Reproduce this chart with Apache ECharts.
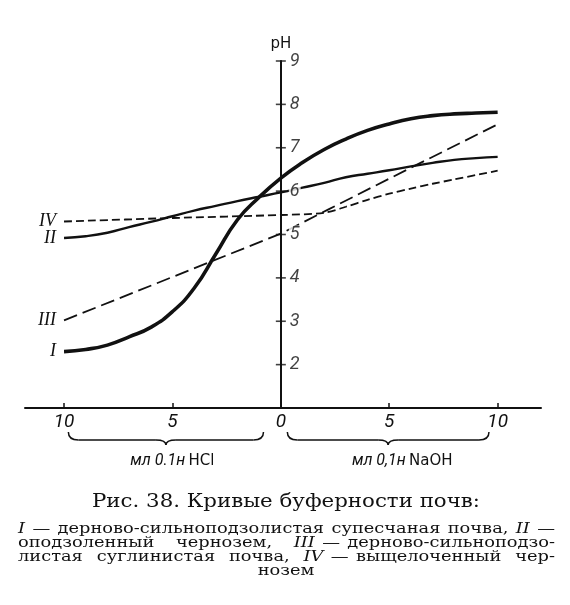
<!DOCTYPE html>
<html>
<head>
<meta charset="utf-8">
<script src="https://cdn.jsdelivr.net/npm/echarts@6/dist/echarts.min.js"></script>
<style>
  html, body { margin: 0; padding: 0; background: #fff; }
  #chart { width: 570px; height: 605px; }
</style>
</head>
<body>
<div id="chart"></div>
<script>
// мл 0.1н HCl слева (отрицательные), мл 0.1н NaOH справа
const mlCommon = [-10, -9, -8, -7, -6, -5, -4, -3, -2, -1, 0, 1, 2, 3, 4, 5, 6, 7, 8, 9, 10];
const phSoilI  = [2.3, 2.35, 2.45, 2.64, 2.86, 3.22, 3.76, 4.55, 5.34, 5.86, 6.3, 6.66, 6.96, 7.2, 7.4, 7.55, 7.67, 7.74, 7.78, 7.8, 7.82];
const phSoilII = [4.92, 4.96, 5.04, 5.17, 5.29, 5.42, 5.55, 5.66, 5.77, 5.87, 5.97, 6.08, 6.19, 6.32, 6.4, 6.48, 6.57, 6.65, 6.72, 6.76, 6.79];
const mlSoilIII = [-10, -5, 0, 2.2, 6, 10];
const phSoilIII = [3.02, 4.02, 5.02, 5.58, 6.54, 7.54];
const mlSoilIV = [-10, -5, 0, 2, 3, 4, 5, 6, 7, 8, 10];
const phSoilIV = [5.3, 5.38, 5.45, 5.5, 5.64, 5.8, 5.94, 6.06, 6.17, 6.27, 6.47];

const xTickValues = [-10, -5, 5, 10];
const xLabelValues = [-10, -5, 0, 5, 10];
const yTickValues = [2, 3, 4, 5, 6, 7, 8, 9];

const ink = '#111';
const digitFont = 'Roboto';
const serifFamily = 'DejaVu Serif';

const chart = echarts.init(document.getElementById('chart'));

function soilLine(name, xs, ys, width, dash, smooth) {
  return {
    type: 'line',
    name: name,
    data: xs.map((x, i) => i === 0 ? { value: [x, ys[i]], label: { show: true } } : [x, ys[i]]),
    showSymbol: true,
    symbol: 'circle',
    symbolSize: 0,
    smooth: smooth,
    silent: true,
    lineStyle: { color: ink, width: width, type: dash || 'solid', cap: 'butt' },
    itemStyle: { color: ink },
    label: {
      show: false, position: 'left', distance: 8, formatter: name,
      fontFamily: 'Liberation Serif', fontStyle: 'italic', fontSize: 18, color: ink
    },
    z: 2
  };
}

const option = {
  backgroundColor: '#fff',
  animation: false,
  grid: { left: 25, right: 29, top: 61, bottom: 197, containLabel: false, outerBoundsMode: 'none' },
  xAxis: {
    type: 'value', min: -11.8, max: 12,
    axisLine: { onZero: false, lineStyle: { color: ink, width: 2 } },
    axisTick: { inside: true, length: 5, customValues: xTickValues, lineStyle: { color: ink, width: 1.5 } },
    axisLabel: {
      customValues: xLabelValues, formatter: v => String(Math.abs(v)), margin: 5,
      fontSize: 19, fontStyle: 'italic', fontFamily: digitFont, color: ink
    },
    splitLine: { show: false }
  },
  yAxis: {
    type: 'value', min: 1, max: 9, interval: 1, z: 3,
    name: 'pH', nameLocation: 'end', nameGap: 9,
    nameTextStyle: { fontSize: 15, fontFamily: 'DejaVu Sans', color: ink, align: 'center' },
    axisLine: { onZero: true, lineStyle: { color: ink, width: 2 } },
    axisTick: { show: false },
    axisLabel: { show: false },
    splitLine: { show: false }
  },
  series: [
    soilLine('I', mlCommon, phSoilI, 3.6, null, true),
    soilLine('II', mlCommon, phSoilII, 2.4, null, true),
    soilLine('III', mlSoilIII, phSoilIII, 1.8, [14, 6], false),
    soilLine('IV', mlSoilIV, phSoilIV, 1.8, [8, 4], 0.3),
    {
      // крестики-деления и подписи оси pH
      type: 'scatter', data: yTickValues.map(v => [0, v]), symbol: 'rect', symbolSize: [10, 1.6],
      itemStyle: { color: ink }, silent: true, z: 4,
      label: {
        show: true, position: 'right', distance: 3, formatter: p => String(p.value[1]),
        fontSize: 18, fontStyle: 'italic', fontFamily: digitFont, color: ink,
        backgroundColor: '#fff', padding: [0, 1, 0, 1]
      }
    }
  ]
};
chart.setOption(option);

// --- подписи и фигурные скобки ---
const measure = document.createElement('canvas').getContext('2d');
function textWidth(txt, size, italic) {
  measure.font = (italic ? 'italic ' : '') + size + 'px "' + serifFamily + '"';
  return measure.measureText(txt).width;
}

const bodySize = 14;
function textEl(txt, x, y, size, italic, align, sx) {
  return {
    type: 'text', x: x, y: y, scaleX: sx, silent: true,
    style: {
      text: txt, fontFamily: serifFamily, fontSize: size, fontStyle: italic ? 'italic' : 'normal',
      fill: ink, textAlign: align, align: align, textVerticalAlign: 'middle', verticalAlign: 'middle'
    }
  };
}

const capLeft = 18, capRight = 555;
// токены строки: [текст, курсив, склеен с предыдущим]
const captionLines = [
  [['I', true, false], ['—', false, false], ['дерново-сильноподзолистая', false, false], ['супесчаная', false, false], ['почва,', false, false], ['II', true, false], ['—', false, false]],
  [['оподзоленный', false, false], ['чернозем,', false, false], ['III', true, false], ['—', false, true], ['дерново-сильноподзо-', false, true]],
  [['листая', false, false], ['суглинистая', false, false], ['почва,', false, false], ['IV', true, false], ['—', false, true], ['выщелоченный', false, true], ['чер-', false, false]]
];
const captionY = [529, 543, 557];

// горизонтальное растяжение шрифта подбираем по первой строке (в ней обычные пробелы)
const space = textWidth(' ', bodySize, false) * 1.3;
const firstNatural = captionLines[0].reduce((s, t, i) => s + textWidth(t[0], bodySize, t[1]) + (i ? space : 0), 0);
const bodyScale = (capRight - capLeft) / firstNatural;

function justifyLine(tokens, y) {
  let total = 0, glued = 0, stretch = 0;
  tokens.forEach((t, i) => {
    total += textWidth(t[0], bodySize, t[1]) * bodyScale;
    if (i > 0) { if (t[2]) glued++; else stretch++; }
  });
  const sp = space * bodyScale;
  const gap = stretch ? (capRight - capLeft - total - glued * sp) / stretch : sp;
  let x = capLeft;
  return tokens.map((t, i) => {
    if (i > 0) x += t[2] ? sp : gap;
    const el = textEl(t[0], x, y, bodySize, t[1], 'left', bodyScale);
    x += textWidth(t[0], bodySize, t[1]) * bodyScale;
    return el;
  });
}

const strokeStyle = { stroke: ink, lineWidth: 1.5, fill: null };
function brace(x0, x1, yTop) {
  const xm = (x0 + x1) / 2, yb = yTop + 8, yt = yTop + 13;
  return [
    { type: 'bezierCurve', silent: true, shape: { x1: x0, y1: yTop, cpx1: x0, cpy1: yb, x2: x0 + 10, y2: yb }, style: strokeStyle },
    { type: 'line', silent: true, shape: { x1: x0 + 10, y1: yb, x2: xm - 10, y2: yb }, style: strokeStyle },
    { type: 'bezierCurve', silent: true, shape: { x1: xm - 10, y1: yb, cpx1: xm, cpy1: yb, x2: xm, y2: yt }, style: strokeStyle },
    { type: 'bezierCurve', silent: true, shape: { x1: xm, y1: yt, cpx1: xm, cpy1: yb, x2: xm + 10, y2: yb }, style: strokeStyle },
    { type: 'line', silent: true, shape: { x1: xm + 10, y1: yb, x2: x1 - 10, y2: yb }, style: strokeStyle },
    { type: 'bezierCurve', silent: true, shape: { x1: x1 - 10, y1: yb, cpx1: x1, cpy1: yb, x2: x1, y2: yTop }, style: strokeStyle }
  ];
}

const px = v => chart.convertToPixel({ xAxisIndex: 0 }, v);
const axisY = chart.convertToPixel({ yAxisIndex: 0 }, 1);
const braceTop = axisY + 24;

const braceLabelRich = {
  it: { fontStyle: 'italic', fontSize: 16, fontFamily: digitFont, fill: ink, color: ink },
  up: { fontSize: 15, fontFamily: 'DejaVu Sans', fill: ink, color: ink }
};

const titleText = 'Рис. 38. Кривые буферности почв:';
const titleSize = 19;
const titleScale = 388 / textWidth(titleText, titleSize, false);

const graphics = [
  ...brace(px(-9.8), px(-0.8), braceTop),
  ...brace(px(0.3), px(9.6), braceTop),
  { type: 'text', x: px(-5), y: axisY + 53, silent: true,
    style: { text: '{it|мл 0.1н} {up|HCl}', rich: braceLabelRich, fill: ink, textAlign: 'center', align: 'center', textVerticalAlign: 'middle', verticalAlign: 'middle' } },
  { type: 'text', x: px(5.6), y: axisY + 53, silent: true,
    style: { text: '{it|мл 0,1н} {up|NaOH}', rich: braceLabelRich, fill: ink, textAlign: 'center', align: 'center', textVerticalAlign: 'middle', verticalAlign: 'middle' } },
  textEl(titleText, 286, 502, titleSize, false, 'center', titleScale)
];

captionLines.forEach((line, i) => { graphics.push(...justifyLine(line, captionY[i])); });
graphics.push(textEl('нозем', 286, 571, bodySize, false, 'center', bodyScale));

chart.setOption({ graphic: graphics });
</script>
</body>
</html>
